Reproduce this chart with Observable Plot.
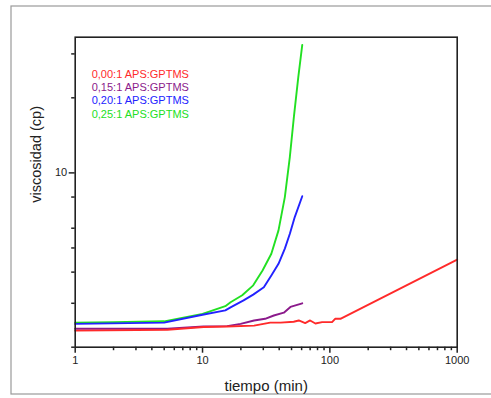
<!DOCTYPE html>
<html>
<head>
<meta charset="utf-8">
<script src="https://cdn.jsdelivr.net/npm/d3@7"></script>
<script src="https://cdn.jsdelivr.net/npm/@observablehq/plot@0.6"></script>
<style>
  html, body { margin: 0; padding: 0; background: #fff; }
  #chart { position: relative; width: 491px; height: 398px; overflow: hidden; }
</style>
</head>
<body>
<div id="chart"></div>
<script>
// ---- data ----
const seriesNames = ["0,00:1 APS:GPTMS", "0,15:1 APS:GPTMS", "0,20:1 APS:GPTMS", "0,25:1 APS:GPTMS"];
const seriesColors = ["#ff2a2a", "#8b1a8b", "#2222ff", "#22e022"];

const t000 = [1, 5.3, 10.2, 15.6, 25.4, 34, 41, 52, 57, 64, 70, 77, 87, 104, 110, 121, 1000];
const v000 = [2.33, 2.35, 2.41, 2.42, 2.44, 2.51, 2.51, 2.53, 2.56, 2.50, 2.56, 2.49, 2.52, 2.52, 2.60, 2.60, 4.49];

const t015 = [1, 5.3, 10.2, 15.6, 19.9, 25.4, 31, 36.3, 43.5, 49, 60.7];
const v015 = [2.37, 2.37, 2.42, 2.43, 2.48, 2.56, 2.60, 2.68, 2.75, 2.90, 3.00];

const t020 = [1, 5, 10, 15.1, 16.6, 21, 25, 30.3, 34.7, 39.5, 44.3, 48.5, 53, 60.7];
const v020 = [2.48, 2.51, 2.70, 2.81, 2.89, 3.08, 3.25, 3.48, 3.88, 4.32, 4.97, 5.70, 6.65, 8.06];

const t025 = [1, 2, 5, 10, 15.1, 16.6, 20.5, 25, 29.6, 34.7, 39.5, 44.3, 48.5, 52.2, 56.5, 60.7];
const v025 = [2.51, 2.52, 2.54, 2.72, 2.92, 3.03, 3.23, 3.54, 4.06, 4.74, 5.88, 8.0, 11.6, 16.8, 24.2, 32.6];

const xMajorTicks = [1, 10, 100, 1000];
const xMinorTicks = [2,3,4,5,6,7,8,9,20,30,40,50,60,70,80,90,200,300,400,500,600,700,800,900];
const yMajorTicks = [10];
const yMinorTicks = [2, 3, 4, 5, 6, 8, 20, 30];
const xLabel = "tiempo (min)";
const yLabel = "viscosidad (cp)";

// ---- build table ----
const rows = [];
[[t000, v000], [t015, v015], [t020, v020], [t025, v025]].forEach(([ts, vs], i) => {
  ts.forEach((t, j) => rows.push({t, v: vs[j], s: seriesNames[i]}));
});
const drawOrder = [3, 2, 1, 0];

const legendMarks = seriesNames.map((name, i) =>
  Plot.text([name], {
    frameAnchor: "top-left", textAnchor: "start", lineAnchor: "middle",
    dx: 16.5, dy: 37.5 + i * 13.1, fill: seriesColors[i], fontSize: 11
  })
);

const chart = Plot.plot({
  width: 491,
  height: 398,
  marginLeft: 74.7,
  marginRight: 34.3,
  marginTop: 36.7,
  marginBottom: 51.3,
  style: { fontFamily: "'Liberation Sans', Arial, sans-serif", fontSize: "11px", color: "#222", background: "transparent" },
  x: { type: "log", domain: [1, 1000] },
  y: { type: "log", domain: [2, 35] },
  color: { domain: seriesNames, range: seriesColors },
  marks: [
    ...drawOrder.map(i => Plot.line(rows.filter(d => d.s === seriesNames[i]), {
      x: "t", y: "v", stroke: seriesColors[i], strokeWidth: 1.9, strokeLinejoin: "round"
    })),
    Plot.axisX(xMajorTicks, { tickSize: 6, tickPadding: 3, tickFormat: d3.format("d"), label: null, stroke: "#222", strokeWidth: 1.5, fill: "#222" }),
    Plot.axisX(xMinorTicks, { tickSize: 3.5, text: null, label: null, stroke: "#222", strokeWidth: 1.5 }),
    Plot.axisY(yMajorTicks, { tickSize: 6, tickPadding: 2, tickFormat: d3.format("d"), label: null, stroke: "#222", strokeWidth: 1.5, fill: "#222" }),
    Plot.axisY(yMinorTicks, { tickSize: 3.5, text: null, label: null, stroke: "#222", strokeWidth: 1.5 }),
    Plot.frame({ stroke: "#222", strokeWidth: 1.6 }),
    Plot.text([xLabel], { frameAnchor: "bottom", lineAnchor: "middle", dy: 38.5, fontSize: 15, fill: "#222" }),
    Plot.text([yLabel], { frameAnchor: "left", lineAnchor: "middle", rotate: -90, dx: -38.5, dy: 10.5, fontSize: 14.5, fill: "#222" }),
    ...legendMarks
  ]
});

// outer panel border (decoration)
d3.select(chart).insert("rect", ":first-child")
  .attr("x", 11).attr("y", 6).attr("width", 520).attr("height", 388)
  .attr("fill", "none").attr("stroke", "#9a9a9a").attr("stroke-width", 1.2);

document.getElementById("chart").appendChild(chart);
</script>
</body>
</html>
